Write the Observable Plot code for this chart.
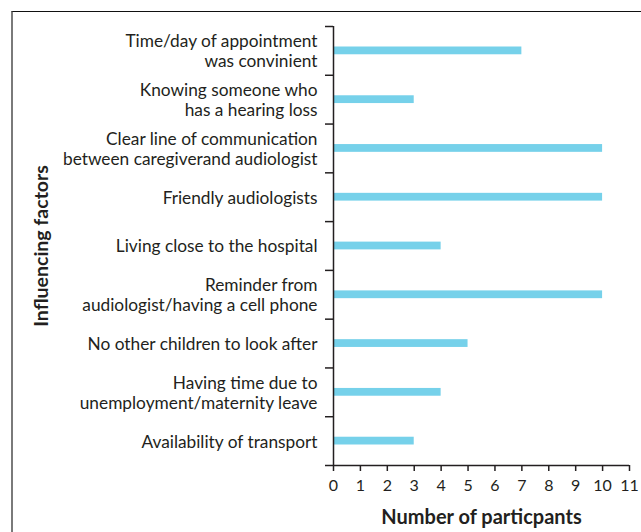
<!DOCTYPE html>
<html>
<head>
<meta charset="utf-8">
<script src="https://cdn.jsdelivr.net/npm/d3@7"></script>
<script src="https://cdn.jsdelivr.net/npm/@observablehq/plot@0.6"></script>
<style>
  html, body { margin: 0; padding: 0; background: #fff; }
  #wrap { position: relative; width: 641px; height: 532px; overflow: hidden; font-family: Lato, sans-serif; }
  #frame { position: absolute; left: 11px; top: 11px; width: 700px; height: 600px; border-left: 2px solid #7a7a7a; border-top: 1px solid #111; }
  #chart { position: absolute; left: 0; top: 0; }
</style>
</head>
<body>
<div id="wrap"><div id="frame"></div><div id="chart"></div></div>
<script>
const factors = [
  "Time/day of appointment\nwas convinient",
  "Knowing someone who\nhas a hearing loss",
  "Clear line of communication\nbetween caregiverand audiologist",
  "Friendly audiologists",
  "Living close to the hospital",
  "Reminder from\naudiologist/having a cell phone",
  "No other children to look after",
  "Having time due to\nunemployment/maternity leave",
  "Availability of transport"
];
const participants = [7, 3, 10, 10, 4, 10, 5, 4, 3];
const xTicks = [0, 1, 2, 3, 4, 5, 6, 7, 8, 9, 10, 11];
const xLabel = "Number of particpants";
const yLabel = "Influencing factors";

const data = factors.map((f, i) => ({factor: f, idx: i, value: participants[i]}));
const boundaries = d3.range(factors.length + 1);
const ink = "#231f20";

const chart = Plot.plot({
  width: 641,
  height: 532,
  marginTop: 26,
  marginBottom: 67,
  marginLeft: 333,
  marginRight: 12,
  style: {fontFamily: "Lato, sans-serif", color: ink, background: "transparent"},
  x: {domain: [0, 11]},
  y: {domain: [factors.length, 0]},
  marks: [
    Plot.rectX(data, {x1: 0, x2: "value", y1: "idx", y2: d => d.idx + 1, fill: "#76d1ea", insetTop: 20.5, insetBottom: 20.5}),
    Plot.axisY({ticks: boundaries, tickFormat: () => "", tickSize: 8, stroke: ink, strokeWidth: 1.5, label: null}),
    Plot.axisX({ticks: xTicks, tickSize: 6, tickPadding: 8, stroke: ink, strokeWidth: 1.5, fontSize: 16, fill: ink, label: null}),
    Plot.ruleX([0], {stroke: ink, strokeWidth: 1.5}),
    Plot.ruleY([factors.length], {stroke: ink, strokeWidth: 1.5}),
    Plot.text(data, {x: 0, y: d => d.idx + 0.5, text: "factor", textAnchor: "end", dx: -16, fontSize: 17.3, fill: ink, lineHeight: 1.16}),
    Plot.text([xLabel], {frameAnchor: "bottom", lineAnchor: "middle", textAnchor: "middle", dy: 52, fontSize: 20, fontWeight: "bold", fill: ink}),
    Plot.text([yLabel], {frameAnchor: "left", textAnchor: "middle", lineAnchor: "middle", dx: -292, dy: 0, rotate: -90, fontSize: 19.5, fontWeight: "bold", fill: ink})
  ]
});
document.getElementById("chart").appendChild(chart);
</script>
</body>
</html>
